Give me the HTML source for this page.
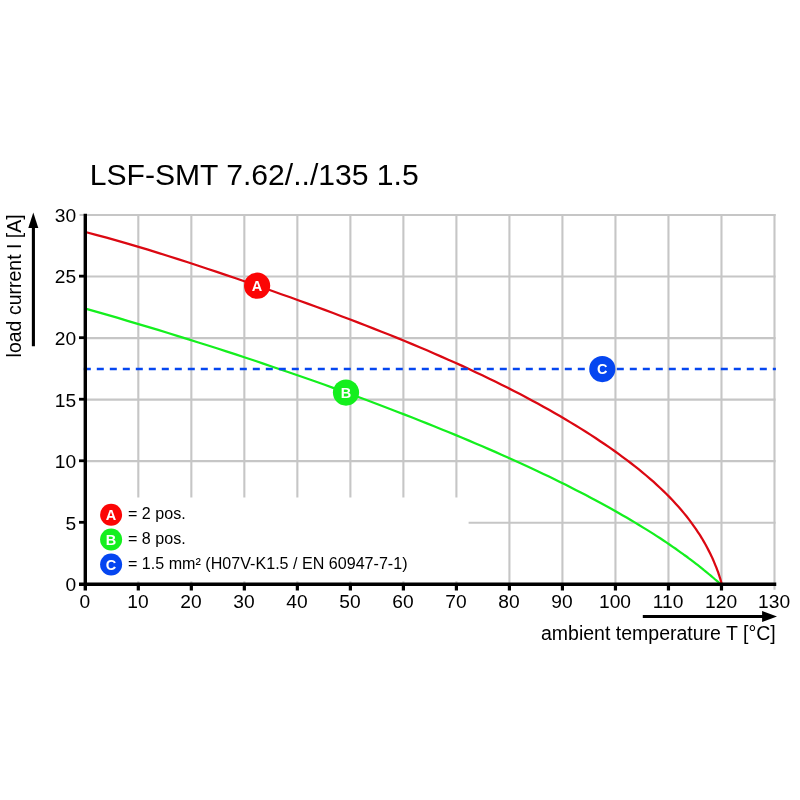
<!DOCTYPE html>
<html lang="en"><head><meta charset="utf-8">
<title>LSF-SMT 7.62/../135 1.5 derating curve</title>
<style>
html,body{margin:0;padding:0;background:#ffffff;}
body{width:800px;height:800px;overflow:hidden;font-family:"Liberation Sans",sans-serif;}
svg{display:block;will-change:transform;}
</style></head>
<body>
<svg width="800" height="800" viewBox="0 0 800 800">
<rect width="800" height="800" fill="#ffffff"/>
<g stroke="#c6c6c6" stroke-width="2.1" fill="none"><line x1="138.31" y1="213.91" x2="138.31" y2="584.25"/><line x1="191.33" y1="213.91" x2="191.33" y2="584.25"/><line x1="244.34" y1="213.91" x2="244.34" y2="584.25"/><line x1="297.36" y1="213.91" x2="297.36" y2="584.25"/><line x1="350.38" y1="213.91" x2="350.38" y2="584.25"/><line x1="403.39" y1="213.91" x2="403.39" y2="584.25"/><line x1="456.41" y1="213.91" x2="456.41" y2="584.25"/><line x1="509.42" y1="213.91" x2="509.42" y2="584.25"/><line x1="562.43" y1="213.91" x2="562.43" y2="584.25"/><line x1="615.45" y1="213.91" x2="615.45" y2="584.25"/><line x1="668.46" y1="213.91" x2="668.46" y2="584.25"/><line x1="721.48" y1="213.91" x2="721.48" y2="584.25"/><line x1="774.49" y1="213.91" x2="774.49" y2="584.25"/><line x1="85.30" y1="522.71" x2="775.59" y2="522.71"/><line x1="85.30" y1="461.17" x2="775.59" y2="461.17"/><line x1="85.30" y1="399.63" x2="775.59" y2="399.63"/><line x1="85.30" y1="338.09" x2="775.59" y2="338.09"/><line x1="85.30" y1="276.55" x2="775.59" y2="276.55"/><line x1="79.50" y1="215.01" x2="775.59" y2="215.01"/><line x1="774.49" y1="584.25" x2="774.49" y2="589.75"/></g>
<rect x="87" y="497.5" width="381.6" height="83.9" fill="#ffffff"/>
<path d="M85.4 308.7 L96.0 311.7 L106.6 314.7 L117.1 317.7 L127.5 320.8 L137.7 323.8 L147.9 326.9 L158.1 329.9 L168.1 333.0 L178.0 336.1 L187.8 339.1 L197.6 342.2 L207.3 345.2 L216.8 348.3 L226.3 351.4 L235.7 354.4 L245.0 357.5 L254.2 360.5 L263.3 363.6 L272.4 366.7 L281.3 369.7 L290.2 372.7 L298.9 375.8 L307.6 378.8 L316.2 381.8 L324.7 384.8 L333.1 387.9 L341.4 390.9 L349.6 393.9 L357.7 396.8 L365.8 399.8 L373.7 402.8 L381.6 405.8 L389.4 408.7 L397.1 411.7 L404.7 414.6 L412.2 417.5 L419.6 420.5 L426.9 423.4 L434.1 426.3 L441.3 429.2 L448.3 432.0 L455.3 434.9 L462.2 437.8 L469.0 440.6 L475.6 443.5 L482.3 446.3 L488.8 449.1 L495.2 451.9 L501.5 454.7 L507.8 457.5 L513.9 460.3 L520.0 463.0 L526.0 465.8 L531.9 468.5 L537.7 471.2 L543.4 473.9 L549.0 476.6 L554.5 479.3 L559.9 482.0 L565.3 484.6 L570.5 487.3 L575.7 489.9 L580.8 492.5 L585.8 495.1 L590.7 497.7 L595.5 500.2 L600.2 502.8 L604.8 505.3 L609.4 507.8 L613.8 510.3 L618.2 512.7 L622.4 515.2 L626.6 517.6 L630.7 520.0 L634.7 522.4 L638.6 524.7 L642.4 527.1 L646.2 529.4 L649.8 531.6 L653.4 533.9 L656.8 536.1 L660.2 538.3 L663.5 540.5 L666.7 542.6 L669.8 544.7 L672.8 546.8 L675.7 548.8 L678.5 550.8 L681.3 552.8 L683.9 554.7 L686.5 556.5 L688.9 558.4 L691.3 560.2 L693.6 561.9 L695.8 563.6 L697.9 565.2 L700.0 566.8 L701.9 568.4 L703.7 569.9 L705.5 571.3 L707.1 572.7 L708.7 574.0 L710.2 575.2 L711.6 576.4 L712.9 577.5 L714.1 578.5 L715.2 579.5 L716.3 580.4 L717.2 581.2 L718.1 581.9 L718.8 582.6 L719.5 583.1 L720.1 583.6 L720.6 583.9 L721.0 584.2 L721.3 584.2 L721.5 584.2 L721.7 584.2 L721.7 584.2" fill="none" stroke="#14ef1e" stroke-width="2.25" stroke-linejoin="round"/>
<path d="M85.4 232.0 L96.0 234.8 L106.6 237.6 L117.1 240.6 L127.5 243.6 L137.7 246.6 L147.9 249.7 L158.1 252.8 L168.1 256.0 L178.0 259.1 L187.8 262.3 L197.6 265.5 L207.3 268.7 L216.8 271.9 L226.3 275.1 L235.7 278.3 L245.0 281.5 L254.2 284.6 L263.3 287.8 L272.4 291.0 L281.3 294.2 L290.2 297.3 L298.9 300.5 L307.6 303.6 L316.2 306.8 L324.7 309.9 L333.1 313.0 L341.4 316.2 L349.6 319.3 L357.7 322.4 L365.8 325.5 L373.7 328.6 L381.6 331.7 L389.4 334.8 L397.1 337.9 L404.7 341.0 L412.2 344.1 L419.6 347.2 L426.9 350.3 L434.1 353.5 L441.3 356.6 L448.3 359.7 L455.3 362.8 L462.2 365.9 L469.0 369.0 L475.6 372.2 L482.3 375.3 L488.8 378.4 L495.2 381.6 L501.5 384.7 L507.8 387.8 L513.9 391.0 L520.0 394.1 L526.0 397.2 L531.9 400.4 L537.7 403.5 L543.4 406.7 L549.0 409.8 L554.5 413.0 L559.9 416.1 L565.3 419.2 L570.5 422.4 L575.7 425.5 L580.8 428.6 L585.8 431.8 L590.7 434.9 L595.5 438.0 L600.2 441.2 L604.8 444.3 L609.4 447.4 L613.8 450.5 L618.2 453.6 L622.4 456.8 L626.6 459.9 L630.7 463.0 L634.7 466.1 L638.6 469.2 L642.4 472.3 L646.2 475.5 L649.8 478.6 L653.4 481.7 L656.8 484.8 L660.2 488.0 L663.5 491.1 L666.7 494.2 L669.8 497.4 L672.8 500.5 L675.7 503.7 L678.5 506.8 L681.3 510.0 L683.9 513.1 L686.5 516.3 L688.9 519.4 L691.3 522.6 L693.6 525.8 L695.8 528.9 L697.9 532.1 L700.0 535.2 L701.9 538.3 L703.7 541.4 L705.5 544.5 L707.1 547.6 L708.7 550.6 L710.2 553.5 L711.6 556.4 L712.9 559.3 L714.1 562.1 L715.2 564.8 L716.3 567.4 L717.2 569.8 L718.1 572.2 L718.8 574.4 L719.5 576.5 L720.1 578.3 L720.6 580.0 L721.0 581.4 L721.3 582.6 L721.5 583.5 L721.7 584.0 L721.7 584.2" fill="none" stroke="#db0812" stroke-width="2.25" stroke-linejoin="round"/>
<line x1="83.8" y1="369" x2="775.9" y2="369" stroke="#0546f0" stroke-width="2.4" stroke-dasharray="7 6"/>
<g stroke="#000000" fill="none">
<line x1="85.30" y1="213.75" x2="85.30" y2="590.5" stroke-width="3.4"/>
<line x1="79" y1="584.25" x2="776.25" y2="584.25" stroke-width="3.5"/>
<line x1="138.31" y1="584.25" x2="138.31" y2="590.5" stroke-width="3.2"/>
<line x1="191.33" y1="584.25" x2="191.33" y2="590.5" stroke-width="3.2"/>
<line x1="244.34" y1="584.25" x2="244.34" y2="590.5" stroke-width="3.2"/>
<line x1="297.36" y1="584.25" x2="297.36" y2="590.5" stroke-width="3.2"/>
<line x1="350.38" y1="584.25" x2="350.38" y2="590.5" stroke-width="3.2"/>
<line x1="403.39" y1="584.25" x2="403.39" y2="590.5" stroke-width="3.2"/>
<line x1="456.41" y1="584.25" x2="456.41" y2="590.5" stroke-width="3.2"/>
<line x1="509.42" y1="584.25" x2="509.42" y2="590.5" stroke-width="3.2"/>
<line x1="562.43" y1="584.25" x2="562.43" y2="590.5" stroke-width="3.2"/>
<line x1="615.45" y1="584.25" x2="615.45" y2="590.5" stroke-width="3.2"/>
<line x1="668.46" y1="584.25" x2="668.46" y2="590.5" stroke-width="3.2"/>
<line x1="721.48" y1="584.25" x2="721.48" y2="590.5" stroke-width="3.2"/>
<line x1="79" y1="522.31" x2="85.30" y2="522.31" stroke-width="2.8"/>
<line x1="79" y1="460.77" x2="85.30" y2="460.77" stroke-width="2.8"/>
<line x1="79" y1="399.23" x2="85.30" y2="399.23" stroke-width="2.8"/>
<line x1="79" y1="337.69" x2="85.30" y2="337.69" stroke-width="2.8"/>
<line x1="79" y1="276.15" x2="85.30" y2="276.15" stroke-width="2.8"/>
</g>
<g font-family="'Liberation Sans', sans-serif" fill="#000000">
<circle cx="257.10" cy="285.70" r="13.10" fill="#fb0505"/><text x="257.10" y="290.73" font-size="14.5" font-weight="bold" fill="#ffffff" text-anchor="middle">A</text>
<circle cx="346.00" cy="392.60" r="13.10" fill="#14ef1e"/><text x="346.00" y="397.63" font-size="14.5" font-weight="bold" fill="#ffffff" text-anchor="middle">B</text>
<circle cx="602.30" cy="369.10" r="13.10" fill="#0546f0"/><text x="602.30" y="374.13" font-size="14.5" font-weight="bold" fill="#ffffff" text-anchor="middle">C</text>
<circle cx="111.10" cy="514.80" r="11.00" fill="#fb0505"/><text x="111.10" y="519.83" font-size="14.5" font-weight="bold" fill="#ffffff" text-anchor="middle">A</text>
<circle cx="111.10" cy="539.50" r="11.00" fill="#14ef1e"/><text x="111.10" y="544.53" font-size="14.5" font-weight="bold" fill="#ffffff" text-anchor="middle">B</text>
<circle cx="111.10" cy="564.50" r="11.00" fill="#0546f0"/><text x="111.10" y="569.53" font-size="14.5" font-weight="bold" fill="#ffffff" text-anchor="middle">C</text>
<text transform="translate(128,519.30) scale(1.02,1)" font-size="15.8">= 2 pos.</text>
<text transform="translate(128,544.10) scale(1.02,1)" font-size="15.8">= 8 pos.</text>
<text transform="translate(128,568.90) scale(1.02,1)" font-size="15.8">= 1.5 mm² (H07V-K1.5 / EN 60947-7-1)</text>
<g font-size="19.2">
<text x="84.90" y="608.3" text-anchor="middle">0</text>
<text x="137.91" y="608.3" text-anchor="middle">10</text>
<text x="190.93" y="608.3" text-anchor="middle">20</text>
<text x="243.94" y="608.3" text-anchor="middle">30</text>
<text x="296.96" y="608.3" text-anchor="middle">40</text>
<text x="349.98" y="608.3" text-anchor="middle">50</text>
<text x="402.99" y="608.3" text-anchor="middle">60</text>
<text x="456.01" y="608.3" text-anchor="middle">70</text>
<text x="509.02" y="608.3" text-anchor="middle">80</text>
<text x="562.03" y="608.3" text-anchor="middle">90</text>
<text x="615.05" y="608.3" text-anchor="middle">100</text>
<text x="668.06" y="608.3" text-anchor="middle">110</text>
<text x="721.08" y="608.3" text-anchor="middle">120</text>
<text x="774.09" y="608.3" text-anchor="middle">130</text>
<text x="76.2" y="591.15" text-anchor="end">0</text>
<text x="76.2" y="529.61" text-anchor="end">5</text>
<text x="76.2" y="468.07" text-anchor="end">10</text>
<text x="76.2" y="406.53" text-anchor="end">15</text>
<text x="76.2" y="344.99" text-anchor="end">20</text>
<text x="76.2" y="283.45" text-anchor="end">25</text>
<text x="76.2" y="221.91" text-anchor="end">30</text>
</g>
<text x="89.7" y="185.1" font-size="30.1">LSF-SMT 7.62/../135 1.5</text>
<text x="775.7" y="639.5" font-size="19.5" text-anchor="end">ambient temperature T [°C]</text>
<text transform="translate(21.2,357.4) rotate(-90)" font-size="19.5">load current I [A]</text>
</g>
<line x1="642.8" y1="616.4" x2="764" y2="616.4" stroke="#000000" stroke-width="3"/>
<polygon points="762.1,610.9 777,616.4 762.1,621.9" fill="#000000"/>
<line x1="33.4" y1="346.25" x2="33.4" y2="226" stroke="#000000" stroke-width="3.1"/>
<polygon points="28.3,227.9 33.3,212.4 38.3,227.9" fill="#000000"/>
</svg>
</body></html>
